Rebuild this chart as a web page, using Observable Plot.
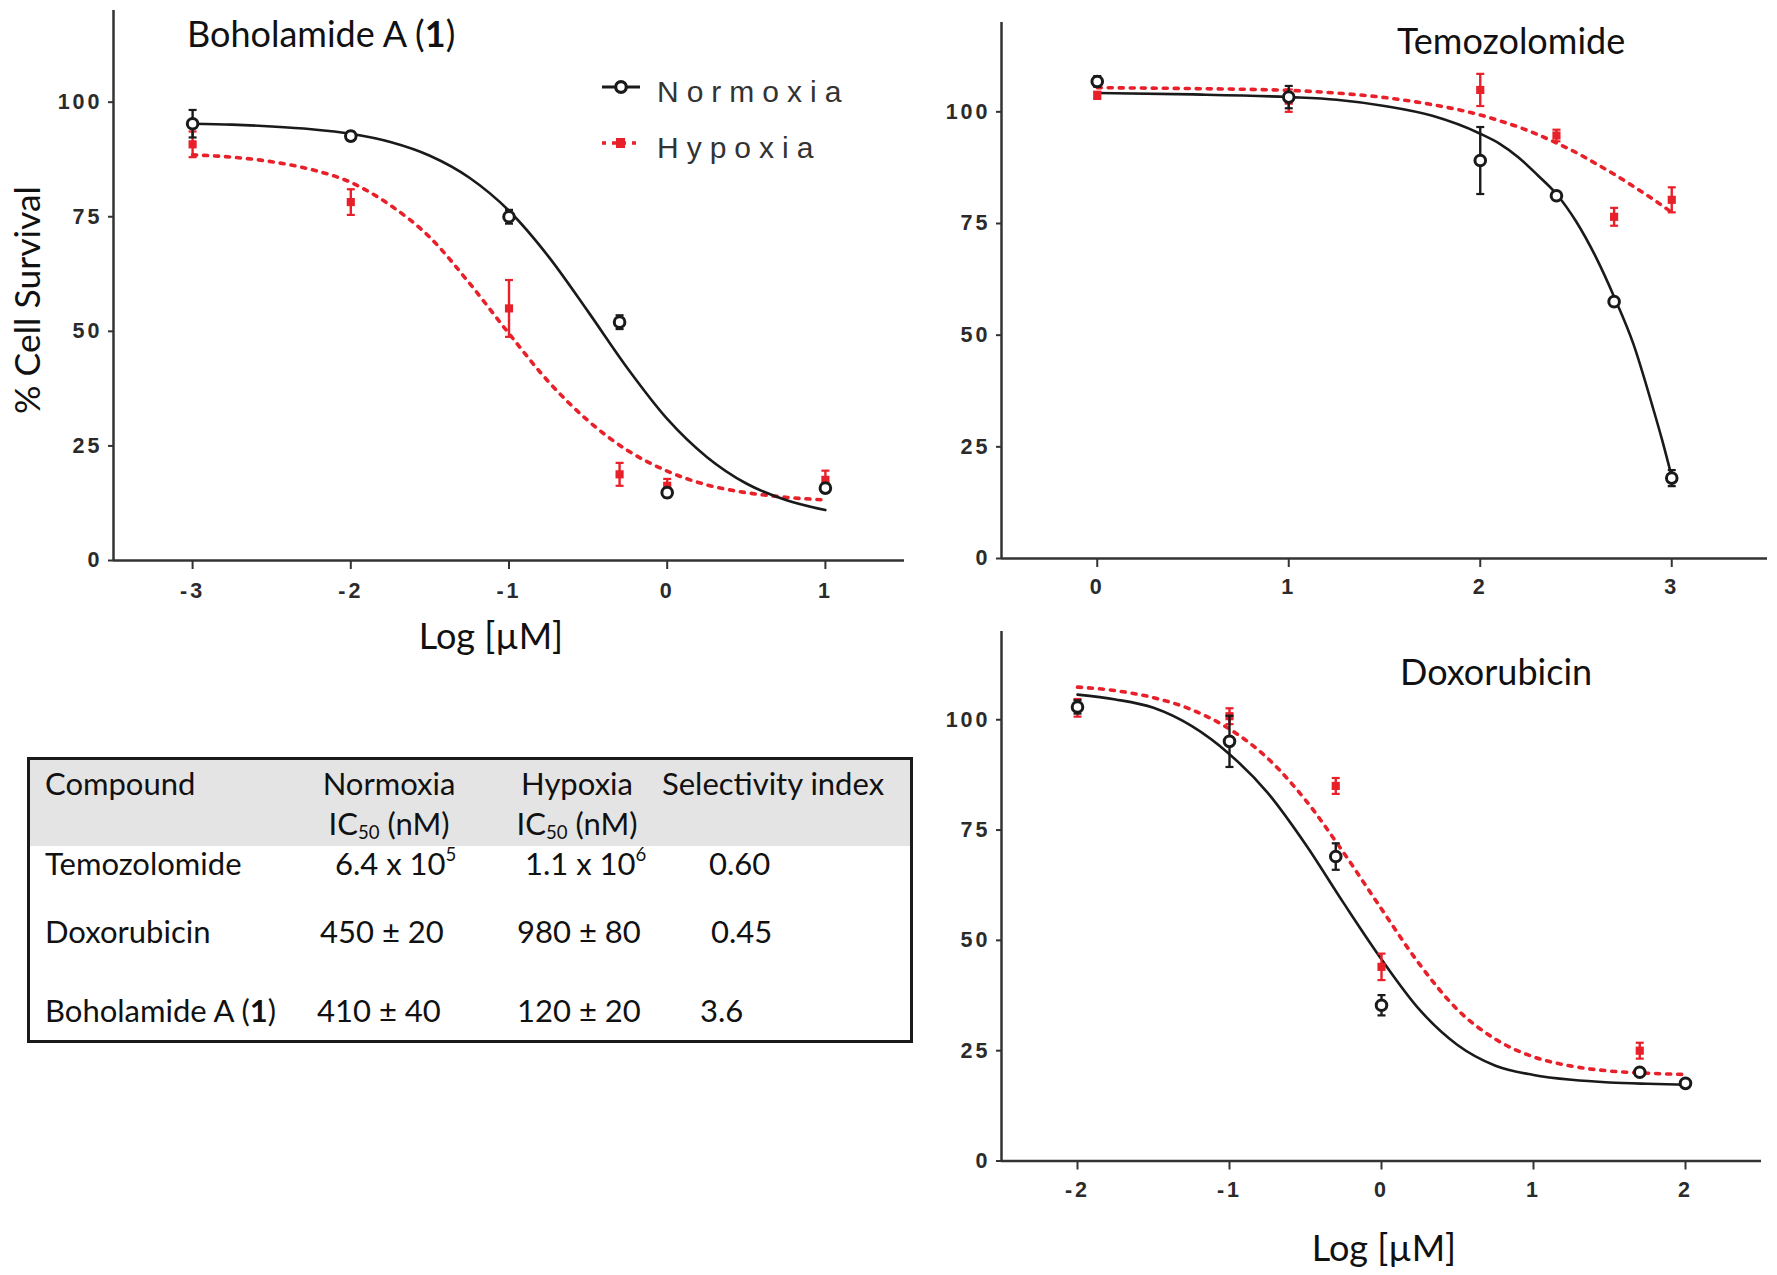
<!DOCTYPE html>
<html><head><meta charset="utf-8">
<script src="https://cdn.jsdelivr.net/npm/d3@7"></script>
<script src="https://cdn.jsdelivr.net/npm/@observablehq/plot@0.6"></script>
<style>
html,body{margin:0;padding:0;background:#fff;}
body{width:1777px;height:1275px;position:relative;overflow:hidden;font-family:Lato,"Open Sans",sans-serif;color:#111;}
.abs{position:absolute;}
.mid{transform:translateY(-50%);line-height:1;white-space:nowrap;}
.pl text{font-family:"Liberation Sans",Arial,sans-serif;font-weight:bold;font-size:21.5px;letter-spacing:3px;fill:#2b2b2b;}
.title{font-size:36px;}
.leg{font-family:"Liberation Sans",Arial,sans-serif;font-size:30px;letter-spacing:8px;color:#333;}
.xl{font-size:36px;transform:translate(-50%,-50%);line-height:1;white-space:nowrap;}
.tbl{position:absolute;left:27px;top:757px;width:886px;height:286px;border:3px solid #1a1a1a;box-sizing:border-box;}
.tbl .hd{position:absolute;left:0;top:0;right:0;height:86px;background:#e4e4e4;}
.tt{position:absolute;font-size:31px;line-height:1;white-space:nowrap;transform:translateY(-50%);color:#111;}
.tc{transform:translate(-50%,-50%);}
sup{font-size:0.6em;vertical-align:0.75em;line-height:0;}
sub{font-size:0.6em;vertical-align:-0.25em;line-height:0;}
</style></head>
<body>
<div id="p1" class="abs" style="left:0;top:0"></div>
<div id="p2" class="abs" style="left:890px;top:0"></div>
<div id="p3" class="abs" style="left:890px;top:620px"></div>

<div class="abs mid title" style="left:187px;top:33px">Boholamide A (<b>1</b>)</div>
<div class="abs mid title" style="left:1397px;top:40px">Temozolomide</div>
<div class="abs mid title" style="left:1400px;top:671px">Doxorubicin</div>
<div class="abs" style="left:27px;top:300px;font-size:35.5px;transform:translate(-50%,-50%) rotate(-90deg);white-space:nowrap;line-height:1">% Cell Survival</div>
<div class="abs xl" style="left:491px;top:635px">Log [µM]</div>
<div class="abs xl" style="left:1384px;top:1247px">Log [µM]</div>

<div id="legend"></div>
<div id="table"></div>

<script>
// ---------- data ----------
const yTicks = [0, 25, 50, 75, 100];

// Boholamide A (1)
const bohoX = [-3, -2, -1, -0.301, 0, 1];
const bohoNorm = [95.3, 92.6, 75.0, 52.0, 14.8, 15.8];
const bohoNormErr = [3.0, 1.0, 1.5, 1.5, 1.0, 1.0];
const bohoHyp = [90.8, 78.2, 55.0, 18.8, 16.3, 17.6];
const bohoHypErr = [2.8, 2.8, 6.2, 2.5, 1.5, 2.0];
const bohoFitX = [-3, -2.75, -2.5, -2.25, -2, -1.75, -1.5, -1.25, -1, -0.75, -0.5, -0.25, 0, 0.25, 0.5, 0.75, 1];
const bohoNormFit = [95.3, 95.1, 94.7, 94.1, 93.1, 91.3, 88.3, 83.5, 76.3, 66.3, 54.3, 41.9, 30.9, 22.6, 16.8, 13.2, 11.0];
const bohoHypFit = [88.5, 88.0, 87.0, 85.3, 82.5, 77.5, 70.5, 60.5, 49.5, 39.0, 30.5, 24.0, 19.5, 16.5, 14.8, 13.8, 13.2];
const bohoXTicks = [-3, -2, -1, 0, 1];

// Temozolomide
const temoX = [0, 1, 2, 2.398, 2.699, 3];
const temoNorm = [106.8, 103.3, 89.1, 81.2, 57.5, 18.0];
const temoNormErr = [1.2, 2.5, 7.5, 0.8, 0.8, 1.8];
const temoHyp = [103.7, 102.5, 104.9, 94.7, 76.5, 80.3];
const temoHypErr = [0.8, 2.5, 3.6, 1.3, 2.0, 2.8];
const temoFitX = [0, 0.5, 1, 1.25, 1.5, 1.75, 2, 2.1, 2.2, 2.3, 2.4, 2.5, 2.6, 2.7, 2.8, 2.9, 2.95, 3];
const temoNormFit = [104.2, 103.9, 103.3, 102.7, 101.3, 99.1, 95.1, 92.9, 89.8, 85.8, 81.5, 75.5, 67.8, 58.5, 48.0, 34.0, 26.5, 18.3];
const temoHypFit = [105.4, 105.2, 104.8, 104.2, 103.2, 101.6, 99.3, 98.0, 96.6, 94.9, 93.0, 90.9, 88.5, 86.0, 83.3, 80.5, 79.0, 77.5];
const temoXTicks = [0, 1, 2, 3];

// Doxorubicin
const doxoX = [-2, -1, -0.301, 0, 1.699, 2];
const doxoNorm = [102.9, 95.1, 69.0, 35.3, 20.1, 17.6];
const doxoNormErr = [1.5, 5.8, 3.0, 2.3, 0.8, 0.5];
const doxoHyp = [102.7, 100.8, 85.0, 44.0, 25.0, 17.8];
const doxoHypErr = [2.0, 1.8, 1.8, 3.0, 1.8, 0.6];
const doxoFitX = [-2, -1.75, -1.5, -1.25, -1, -0.75, -0.5, -0.25, 0, 0.25, 0.5, 0.75, 1, 1.25, 1.5, 1.75, 2];
const doxoNormFit = [105.7, 104.6, 102.7, 98.6, 92.2, 83.5, 71.8, 58.5, 45.7, 34.3, 26.3, 21.6, 19.5, 18.4, 17.8, 17.5, 17.3];
const doxoHypFit = [107.4, 106.6, 105.0, 102.3, 97.9, 91.3, 81.8, 69.9, 57.1, 44.6, 34.3, 27.6, 23.6, 21.5, 20.4, 19.9, 19.6];
const doxoXTicks = [-2, -1, 0, 1, 2];

// legend & table
const seriesNames = ["Normoxia", "Hypoxia"];
const tableCompounds = ["Temozolomide", "Doxorubicin", "Boholamide A (<b>1</b>)"];
const tableNormoxia = ["6.4 x 10<sup>5</sup>", "450 ± 20", "410 ± 40"];
const tableHypoxia = ["1.1 x 10<sup>6</sup>", "980 ± 80", "120 ± 20"];
const tableSelectivity = ["0.60", "0.45", "3.6"];

// ---------- styles ----------
const RED = "#e8202a";
const BLACK = "#1a1a1a";
const AXIS = "#333";

const capSymbol = {draw(ctx, size) { const w = Math.sqrt(size / Math.PI); ctx.moveTo(-w, 0); ctx.lineTo(w, 0); }};

function panel(o) {
  const pts = (ys, errs) => o.x.map((xv, i) => ({x: xv, y: ys[i], lo: ys[i] - errs[i], hi: ys[i] + errs[i]}));
  const fit = (ys) => o.fitX.map((xv, i) => ({x: xv, y: ys[i]}));
  const n = pts(o.norm, o.normErr), h = pts(o.hyp, o.hypErr);
  return Plot.plot({
    className: "pl",
    width: o.width, height: o.height,
    marginLeft: o.ml, marginRight: o.mr, marginTop: o.mt, marginBottom: o.mb,
    x: {domain: o.xDomain},
    y: {domain: [0, 120]},
    style: {background: "transparent", overflow: "visible"},
    marks: [
      Plot.axisX({ticks: o.xTicks, tickSize: 9, tickPadding: o.tp, tickFormat: d => String(d), label: null, stroke: AXIS, strokeWidth: 2}),
      Plot.axisY({ticks: yTicks, tickSize: 5, tickPadding: 6, tickFormat: d => String(d), label: null, stroke: AXIS, strokeWidth: 2}),
      Plot.ruleY([0], {stroke: AXIS, strokeWidth: 2.5}),
      Plot.ruleX([o.xDomain[0]], {stroke: AXIS, strokeWidth: 2.5}),
      Plot.line(fit(o.hypFit), {x: "x", y: "y", stroke: RED, strokeWidth: 3.6, strokeDasharray: "4,7", curve: "monotone-x"}),
      Plot.line(fit(o.normFit), {x: "x", y: "y", stroke: BLACK, strokeWidth: 2.6, curve: "monotone-x"}),
      Plot.ruleX(h, {x: "x", y1: "lo", y2: "hi", stroke: RED, strokeWidth: 2.4}),
      Plot.dot(h, {x: "x", y: "lo", symbol: capSymbol, r: 4, stroke: RED, strokeWidth: 2.2}),
      Plot.dot(h, {x: "x", y: "hi", symbol: capSymbol, r: 4, stroke: RED, strokeWidth: 2.2}),
      Plot.dot(h, {x: "x", y: "y", symbol: "square", r: 4.6, fill: RED}),
      Plot.ruleX(n, {x: "x", y1: "lo", y2: "hi", stroke: BLACK, strokeWidth: 2.4}),
      Plot.dot(n, {x: "x", y: "lo", symbol: capSymbol, r: 4, stroke: BLACK, strokeWidth: 2.2}),
      Plot.dot(n, {x: "x", y: "hi", symbol: capSymbol, r: 4, stroke: BLACK, strokeWidth: 2.2}),
      Plot.dot(n, {x: "x", y: "y", r: 5.3, stroke: BLACK, strokeWidth: 3, fill: "white"})
    ]
  });
}

document.getElementById("p1").append(panel({
  x: bohoX, norm: bohoNorm, normErr: bohoNormErr, hyp: bohoHyp, hypErr: bohoHypErr,
  fitX: bohoFitX, normFit: bohoNormFit, hypFit: bohoHypFit,
  xDomain: [-3.5, 1.5], xTicks: bohoXTicks,
  width: 920, height: 620, ml: 113, mr: 16, mt: 10, mb: 60, tp: 13
}));
document.getElementById("p2").append(panel({
  x: temoX, norm: temoNorm, normErr: temoNormErr, hyp: temoHyp, hypErr: temoHypErr,
  fitX: temoFitX, normFit: temoNormFit, hypFit: temoHypFit,
  xDomain: [-0.5, 3.5], xTicks: temoXTicks,
  width: 887, height: 620, ml: 111, mr: 10, mt: 22, mb: 62, tp: 11
}));
document.getElementById("p3").append(panel({
  x: doxoX, norm: doxoNorm, normErr: doxoNormErr, hyp: doxoHyp, hypErr: doxoHypErr,
  fitX: doxoFitX, normFit: doxoNormFit, hypFit: doxoHypFit,
  xDomain: [-2.5, 2.5], xTicks: doxoXTicks,
  width: 887, height: 600, ml: 111, mr: 16, mt: 11, mb: 59.5, tp: 12
}));

// ---------- legend ----------
const leg = document.getElementById("legend");
const legRows = [
  {name: seriesNames[0], y: 87, sw: `<line x1="2" y1="12" x2="40" y2="12" stroke="${BLACK}" stroke-width="2.8"/><circle cx="21" cy="12" r="5.3" fill="white" stroke="${BLACK}" stroke-width="3.2"/>`},
  {name: seriesNames[1], y: 143, sw: `<line x1="2" y1="12" x2="40" y2="12" stroke="${RED}" stroke-width="3.4" stroke-dasharray="4,6"/><rect x="16" y="7" width="9" height="10" fill="${RED}"/>`}
];
legRows.forEach(r => {
  const s = document.createElement("div");
  s.className = "abs";
  s.style.left = "600px"; s.style.top = (r.y - 12) + "px";
  s.innerHTML = `<svg width="44" height="24">${r.sw}</svg>`;
  leg.append(s);
  const t = document.createElement("div");
  t.className = "abs mid leg";
  t.style.left = "657px"; t.style.top = (r.y + 5) + "px";
  t.textContent = r.name;
  leg.append(t);
});

// ---------- table ----------
const tbl = document.createElement("div");
tbl.className = "tbl";
tbl.innerHTML = `<div class="hd"></div>`;
document.getElementById("table").append(tbl);
const ox = 27, oy = 757;
function cell(html, x, y, center) {
  const d = document.createElement("div");
  d.className = "tt" + (center ? " tc" : "");
  d.style.left = (x - ox - 3) + "px"; d.style.top = (y - oy - 3) + "px";
  d.innerHTML = html;
  tbl.append(d);
}
cell("Compound", 45, 783);
cell("Normoxia", 389, 783, true);
cell("IC<sub>50</sub> (nM)", 389, 823, true);
cell("Hypoxia", 577, 783, true);
cell("IC<sub>50</sub> (nM)", 577, 823, true);
cell("Selectivity index", 662, 783);
const rowY = [863, 931, 1010];
const colNx = [335, 320, 317], colHx = [525, 517, 517], colSx = [709, 711, 700];
tableCompounds.forEach((c, i) => {
  cell(c, 45, rowY[i]);
  cell(tableNormoxia[i], colNx[i], rowY[i]);
  cell(tableHypoxia[i], colHx[i], rowY[i]);
  cell(tableSelectivity[i], colSx[i], rowY[i]);
});
</script>
</body></html>
